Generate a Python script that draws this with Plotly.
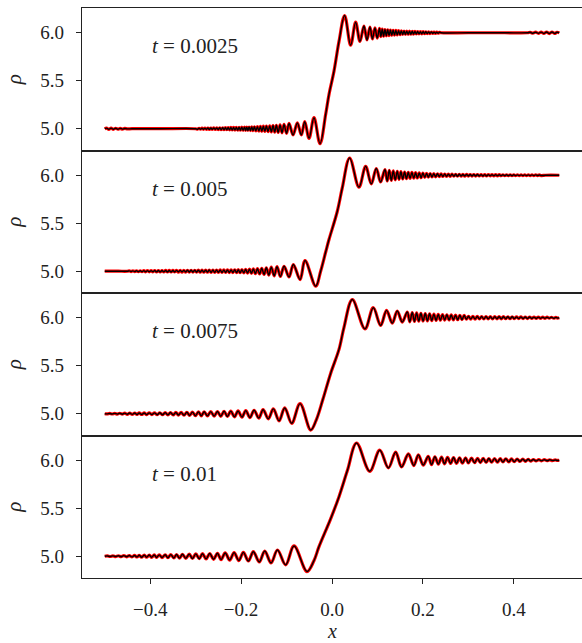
import plotly.graph_objects as go
from plotly.subplots import make_subplots

# ---------------- data ----------------
time_labels = ["0.0025", "0.005", "0.0075", "0.01"]

x_t1 = [
    -0.500, -0.496, -0.491, -0.486, -0.481, -0.476, -0.471, -0.466, -0.461, -0.456, -0.450, -0.440, -0.380, -0.300,
    -0.2958, -0.2925, -0.2893, -0.286, -0.2828, -0.2795, -0.2763, -0.273, -0.2698, -0.2665, -0.2633, -0.260,
    -0.2568, -0.2535, -0.2503, -0.247, -0.2438, -0.2405,
    -0.2375, -0.2345, -0.2315, -0.2285, -0.2255, -0.2225, -0.2195, -0.2165, -0.2135, -0.2105, -0.2075, -0.2045,
    -0.2015, -0.1985, -0.1955, -0.1925, -0.190, -0.1875, -0.185, -0.1824,
    -0.1795, -0.1766, -0.1737, -0.1707, -0.1674, -0.1641, -0.1608, -0.1575, -0.1543, -0.151, -0.1477, -0.1443,
    -0.1407, -0.137, -0.1334, -0.1297, -0.126, -0.1224, -0.1184, -0.1143, -0.110, -0.1055, -0.100, -0.0945,
    -0.0857, -0.0762, -0.0674, -0.060, -0.0505, -0.0396, -0.0264, -0.0139, -0.0066, 0.0044, 0.0154, 0.0278,
    0.041, 0.052, 0.0615, 0.0703, 0.077, 0.0835, 0.089, 0.0945, 0.0995, 0.1045,
    0.1075, 0.1105, 0.1135, 0.1165, 0.1195, 0.1225, 0.1255, 0.1285, 0.1315, 0.1345, 0.1375, 0.1405, 0.1435,
    0.1465, 0.1495, 0.1525, 0.1555, 0.1585, 0.1615, 0.1645, 0.1675, 0.1705, 0.1735, 0.1765, 0.1795, 0.1825,
    0.1855, 0.1885, 0.1915, 0.1945, 0.1975, 0.2005, 0.2035, 0.2065, 0.2095, 0.2125, 0.2155, 0.2185, 0.2215,
    0.2245, 0.2275, 0.2305, 0.2335, 0.2365,
    0.240, 0.300, 0.380, 0.430, 0.436, 0.442, 0.448, 0.454, 0.460, 0.466, 0.472, 0.478, 0.484, 0.490, 0.495, 0.500,
]
rho_t1 = [
    5.000, 5.006, 4.994, 5.006, 4.994, 5.005, 4.995, 5.004, 4.996, 5.003, 4.998, 5.000, 5.000, 5.000,
    4.995, 5.005, 4.995, 5.006, 4.994, 5.006, 4.994, 5.007, 4.993, 5.007, 4.993, 5.008,
    4.992, 5.009, 4.991, 5.010, 4.990, 5.010,
    4.989, 5.011, 4.989, 5.012, 4.988, 5.013, 4.987, 5.013, 4.986, 5.014, 4.985, 5.015,
    4.984, 5.016, 4.983, 5.017, 4.982, 5.017, 4.982, 5.018,
    4.981, 5.019, 4.980, 5.020, 4.978, 5.022, 4.976, 5.024, 4.974, 5.026, 4.972, 5.028,
    4.970, 5.030, 4.967, 5.033, 4.964, 5.036, 4.961, 5.040, 4.957, 5.045, 4.952, 5.055,
    4.935, 5.060, 4.935, 5.073, 4.900, 5.115, 4.844, 5.150, 5.357, 5.600, 5.910, 6.180,
    5.870, 6.110, 5.910, 6.070, 5.925, 6.060, 5.935, 6.050, 5.945, 6.045,
    5.960, 6.038, 5.964, 6.034, 5.968, 6.031, 5.971, 6.028, 5.974, 6.026, 5.976, 6.024, 5.978,
    6.022, 5.980, 6.020, 5.982, 6.018, 5.983, 6.017, 5.984, 6.016, 5.985, 6.015, 5.986, 6.014,
    5.987, 6.013, 5.988, 6.012, 5.989, 6.011, 5.990, 6.010, 5.991, 6.009, 5.992, 6.008, 5.993,
    6.007, 5.994, 6.006, 5.995, 6.005,
    6.000, 6.000, 6.000, 6.000, 6.005, 5.995, 6.006, 5.994, 6.007, 5.993, 6.008, 5.992, 6.008, 5.993, 6.005, 6.000,
]

x_t2 = [
    -0.500, -0.470, -0.450,
    -0.446, -0.442, -0.438, -0.434, -0.430, -0.426, -0.422, -0.418, -0.414, -0.410,
    -0.406, -0.402, -0.398, -0.394, -0.390, -0.386, -0.382, -0.378, -0.374, -0.370,
    -0.366, -0.362, -0.358, -0.354, -0.350, -0.346, -0.342, -0.338, -0.334, -0.330,
    -0.326, -0.322, -0.318, -0.314, -0.310, -0.306, -0.302, -0.298, -0.294, -0.290,
    -0.286, -0.282, -0.278, -0.274, -0.270, -0.266, -0.262, -0.258, -0.254, -0.250,
    -0.246, -0.242, -0.238, -0.234, -0.230, -0.226, -0.222, -0.218, -0.214, -0.210,
    -0.2062, -0.2022, -0.1982, -0.1941, -0.190, -0.1857, -0.1815, -0.1772, -0.173, -0.1685,
    -0.164, -0.1592, -0.1545, -0.1495, -0.1445, -0.139, -0.1335, -0.1272, -0.121, -0.1135,
    -0.1055, -0.0945, -0.085, -0.0703, -0.0593, -0.0359,
    -0.025, -0.0139, -0.0066, 0.0117, 0.0227, 0.0388,
    0.0593, 0.074, 0.0864, 0.0974, 0.107, 0.1165, 0.1215, 0.126, 0.1305, 0.1348,
    0.1392, 0.1436, 0.1476, 0.1516, 0.1556, 0.1597, 0.1638, 0.1678, 0.1718, 0.1758,
    0.1799, 0.1839, 0.1879, 0.1919, 0.196, 0.200,
    0.204, 0.208, 0.212, 0.216, 0.220, 0.224, 0.228, 0.232, 0.236, 0.240,
    0.244, 0.248, 0.252, 0.256, 0.260, 0.264, 0.268, 0.272, 0.276, 0.280,
    0.284, 0.288, 0.292, 0.296, 0.300, 0.304, 0.308, 0.312, 0.316, 0.320,
    0.324, 0.328, 0.332, 0.336, 0.340, 0.344, 0.348, 0.352, 0.356, 0.360,
    0.364, 0.368, 0.372, 0.376, 0.380, 0.384, 0.388, 0.392, 0.396, 0.400,
    0.404, 0.408, 0.412, 0.416, 0.420, 0.424, 0.428, 0.432, 0.436, 0.440,
    0.444, 0.448, 0.452, 0.456, 0.460, 0.470, 0.500,
]
rho_t2 = [
    5.000, 5.000, 5.000,
    5.004, 4.996, 5.004, 4.996, 5.005, 4.995, 5.005, 4.995, 5.006, 4.994,
    5.006, 4.994, 5.006, 4.994, 5.007, 4.993, 5.007, 4.993, 5.007, 4.993,
    5.008, 4.992, 5.008, 4.992, 5.008, 4.992, 5.009, 4.991, 5.009, 4.991,
    5.009, 4.991, 5.010, 4.990, 5.010, 4.990, 5.010, 4.990, 5.011, 4.989,
    5.011, 4.989, 5.011, 4.989, 5.012, 4.988, 5.012, 4.988, 5.012, 4.988,
    5.013, 4.987, 5.013, 4.987, 5.014, 4.986, 5.014, 4.986, 5.015, 4.985,
    5.016, 4.984, 5.017, 4.983, 5.019, 4.981, 5.021, 4.978, 5.024, 4.975,
    5.027, 4.971, 5.031, 4.966, 5.036, 4.960, 5.042, 4.952, 5.047, 4.945,
    5.052, 4.940, 5.070, 4.913, 5.111, 4.844,
    5.000, 5.200, 5.330, 5.625, 5.870, 6.180,
    5.875, 6.094, 5.910, 6.070, 5.930, 6.060, 5.940, 6.052, 5.946, 6.046,
    5.952, 6.041, 5.957, 6.037, 5.961, 6.034, 5.964, 6.031, 5.967, 6.029,
    5.970, 6.027, 5.972, 6.025, 5.974, 6.023,
    5.978, 6.020, 5.980, 6.018, 5.982, 6.016, 5.984, 6.015, 5.986, 6.014,
    5.987, 6.013, 5.988, 6.012, 5.989, 6.011, 5.990, 6.010, 5.990, 6.010,
    5.991, 6.009, 5.991, 6.009, 5.992, 6.008, 5.992, 6.008, 5.992, 6.008,
    5.993, 6.007, 5.993, 6.007, 5.993, 6.007, 5.994, 6.006, 5.994, 6.006,
    5.994, 6.006, 5.995, 6.005, 5.995, 6.005, 5.995, 6.005, 5.995, 6.005,
    5.996, 6.004, 5.996, 6.004, 5.996, 6.004, 5.996, 6.004, 5.996, 6.004,
    5.996, 6.004, 5.997, 6.003, 5.997, 6.000, 6.000,
]

x_t3 = [
    -0.500, -0.4945, -0.489, -0.4835, -0.478, -0.4725, -0.467, -0.4615, -0.456, -0.4505, -0.445, -0.4395, -0.434, -0.429,
    -0.4242, -0.4187, -0.4132, -0.4077, -0.4022, -0.3963, -0.3905, -0.3846, -0.3788, -0.3729,
    -0.3670, -0.3611, -0.3553, -0.3494, -0.3436, -0.3377, -0.3319, -0.3256, -0.3194, -0.3132,
    -0.3070, -0.3004, -0.2938, -0.2875, -0.2813, -0.2740, -0.2667, -0.2593, -0.2520, -0.2447,
    -0.2374, -0.2300, -0.2227, -0.2146, -0.2066, -0.1980, -0.1897, -0.1805, -0.1714, -0.1610,
    -0.1516, -0.1400, -0.1290, -0.1165, -0.1040, -0.0886, -0.0703, -0.0469,
    -0.035, -0.020, -0.003, 0.0154, 0.0264, 0.0447,
    0.0725, 0.0908, 0.107, 0.120, 0.1326, 0.1436, 0.1546, 0.1656,
    0.1711, 0.1766, 0.1814, 0.1861, 0.1909, 0.1956, 0.2004, 0.2051, 0.2099, 0.2147,
    0.2195, 0.2242, 0.229, 0.2337, 0.2385, 0.2432, 0.248, 0.2527, 0.2575, 0.2623,
    0.267, 0.2718, 0.2765, 0.2813, 0.286, 0.2908,
    0.2956, 0.3004, 0.3052, 0.310, 0.3148, 0.3196, 0.3244, 0.3292, 0.334, 0.3388,
    0.3436, 0.3484, 0.3532, 0.358, 0.3628, 0.3676, 0.3724, 0.3772, 0.382, 0.3868,
    0.3916, 0.3964, 0.4012, 0.406, 0.4108, 0.4156, 0.4204, 0.4252, 0.430, 0.4348,
    0.4396, 0.4444, 0.4492, 0.454, 0.4588, 0.4636, 0.4684, 0.4732, 0.478, 0.4828,
    0.4876, 0.4924, 0.496, 0.500,
]
rho_t3 = [
    5.000, 4.998, 5.003, 4.997, 5.004, 4.996, 5.005, 4.995, 5.006, 4.994, 5.007, 4.993, 5.007, 4.992,
    5.008, 4.992, 5.008, 4.991, 5.009, 4.991, 5.009, 4.990, 5.010, 4.989,
    5.011, 4.988, 5.012, 4.987, 5.013, 4.986, 5.014, 4.984, 5.015, 4.982,
    5.017, 4.979, 5.019, 4.978, 5.020, 4.977, 5.022, 4.975, 5.023, 4.973,
    5.025, 4.971, 5.027, 4.968, 5.029, 4.965, 5.032, 4.960, 5.036, 4.955,
    5.042, 4.947, 5.050, 4.926, 5.060, 4.900, 5.105, 4.830,
    4.930, 5.150, 5.420, 5.670, 5.900, 6.190,
    5.884, 6.105, 5.920, 6.077, 5.944, 6.070, 5.955, 6.060,
    5.958, 6.055, 5.961, 6.051, 5.964, 6.047, 5.966, 6.044, 5.968, 6.041,
    5.970, 6.038, 5.972, 6.035, 5.974, 6.033, 5.976, 6.031, 5.977, 6.029,
    5.978, 6.027, 5.979, 6.026, 5.980, 6.025,
    5.985, 6.015, 5.986, 6.014, 5.986, 6.014, 5.987, 6.013, 5.987, 6.013,
    5.988, 6.012, 5.988, 6.012, 5.989, 6.011, 5.989, 6.011, 5.990, 6.010,
    5.990, 6.010, 5.991, 6.009, 5.991, 6.009, 5.992, 6.008, 5.992, 6.008,
    5.993, 6.007, 5.993, 6.007, 5.994, 6.006, 5.994, 6.006, 5.995, 6.005,
    5.995, 6.004, 5.997, 6.000,
]

x_t4 = [
    -0.500, -0.494, -0.488, -0.482, -0.476, -0.470, -0.464, -0.458, -0.452, -0.446,
    -0.440, -0.4345, -0.429, -0.424, -0.419, -0.413, -0.408, -0.402, -0.397, -0.391,
    -0.386, -0.380, -0.374, -0.367, -0.361, -0.3545, -0.348, -0.342, -0.3355, -0.329,
    -0.3216, -0.314, -0.307, -0.2996, -0.292, -0.285, -0.277, -0.269, -0.2605, -0.252,
    -0.244, -0.235, -0.225, -0.2154, -0.205, -0.195, -0.184, -0.173, -0.160, -0.148,
    -0.134, -0.120, -0.102, -0.0835, -0.055,
    -0.040, -0.0286, -0.003, 0.0154, 0.034, 0.054,
    0.083, 0.105, 0.124, 0.140, 0.153, 0.168, 0.180, 0.190, 0.2007, 0.2117,
    0.219, 0.2264, 0.234, 0.241, 0.2476, 0.2542, 0.261, 0.2674, 0.274, 0.2806,
    0.287, 0.2938, 0.300, 0.307, 0.3136, 0.3202, 0.3264, 0.3326, 0.339, 0.3451,
    0.351, 0.3576, 0.364, 0.370, 0.376, 0.3824, 0.389, 0.3949, 0.401, 0.4073,
    0.4135, 0.4198, 0.4256, 0.4315, 0.437, 0.443, 0.449, 0.455, 0.461, 0.467,
    0.473, 0.479, 0.485, 0.491, 0.496, 0.500,
]
rho_t4 = [
    5.000, 5.003, 4.997, 5.004, 4.996, 5.005, 4.995, 5.006, 4.994, 5.007,
    4.993, 5.008, 4.992, 5.010, 4.990, 5.011, 4.989, 5.012, 4.988, 5.013,
    4.987, 5.014, 4.986, 5.015, 4.984, 5.017, 4.982, 5.018, 4.980, 5.020,
    4.978, 5.022, 4.976, 5.024, 4.974, 5.026, 4.972, 5.028, 4.968, 5.031,
    4.965, 5.034, 4.960, 5.037, 4.955, 5.040, 4.950, 5.047, 4.940, 5.054,
    4.930, 5.065, 4.910, 5.107, 4.840,
    4.950, 5.100, 5.390, 5.620, 5.895, 6.180,
    5.885, 6.105, 5.920, 6.085, 5.930, 6.066, 5.945, 6.056, 5.950, 6.040,
    5.955, 6.036, 5.960, 6.033, 5.963, 6.030, 5.966, 6.028, 5.968, 6.026,
    5.970, 6.024, 5.972, 6.022, 5.974, 6.020, 5.976, 6.019, 5.978, 6.018,
    5.979, 6.017, 5.980, 6.016, 5.982, 6.015, 5.983, 6.014, 5.985, 6.013,
    5.987, 6.012, 5.989, 6.010, 5.991, 6.008, 5.993, 6.007, 5.994, 6.006,
    5.995, 6.005, 5.996, 6.003, 5.998, 6.000,
]

x_tickvals = [-0.4, -0.2, 0.0, 0.2, 0.4]
x_ticktext = ["\u22120.4", "\u22120.2", "0.0", "0.2", "0.4"]
y_tickvals = [5.0, 5.5, 6.0]
y_ticktext = ["5.0", "5.5", "6.0"]

series = [(x_t1, rho_t1), (x_t2, rho_t2), (x_t3, rho_t3), (x_t4, rho_t4)]
for xs, rs in series:
    assert len(xs) == len(rs), (len(xs), len(rs))

# ---------------- figure ----------------
FONT = "Liberation Serif"
AX = "#222222"

fig = make_subplots(rows=4, cols=1, shared_xaxes=True, vertical_spacing=0)

for i, ((xs, rs), lab) in enumerate(zip(series, time_labels), start=1):
    fig.add_trace(go.Scatter(x=xs, y=rs, mode="lines",
                             line=dict(color="#ff0000", width=3.2, shape="spline", smoothing=1.0),
                             hoverinfo="skip", showlegend=False), row=i, col=1)
    fig.add_trace(go.Scatter(x=xs, y=rs, mode="lines",
                             line=dict(color="#000000", width=1.4, shape="spline", smoothing=1.0),
                             showlegend=False), row=i, col=1)
    fig.update_yaxes(range=[4.773, 6.258], tickvals=y_tickvals, ticktext=y_ticktext,
                     ticks="outside", ticklen=5, tickwidth=1, tickcolor=AX,
                     showline=True, linecolor=AX, linewidth=1.2, mirror=False,
                     showgrid=False, zeroline=False, ticklabelstandoff=8, automargin=False,
                     tickfont=dict(family=FONT, size=19, color=AX),
                     title=dict(text="<i>\u03c1</i>", standoff=12,
                                font=dict(family=FONT, size=21, color=AX)),
                     row=i, col=1)
    fig.update_xaxes(range=[-0.55, 0.55], showline=True, mirror=True, linecolor=AX,
                     linewidth=1.2, showgrid=False, zeroline=False, automargin=False,
                     ticks="", showticklabels=False, row=i, col=1)
    fig.add_annotation(x=-0.4, y=5.862, text=f"<i>t</i> = {lab}", showarrow=False,
                       xanchor="left", yanchor="middle",
                       font=dict(family=FONT, size=21, color=AX), row=i, col=1)

fig.update_xaxes(ticks="outside", ticklen=5, tickwidth=1, tickcolor=AX,
                 tickvals=x_tickvals, ticktext=x_ticktext, showticklabels=True,
                 ticklabelstandoff=9, tickfont=dict(family=FONT, size=19, color=AX),
                 row=4, col=1)

# x-axis label: bottom of its box sits on the lower edge of the figure
fig.add_annotation(x=0.0, xref="x4", y=0, yref="paper", yshift=-65,
                   text="<i>x</i>", showarrow=False, xanchor="center", yanchor="bottom",
                   borderpad=0, font=dict(family=FONT, size=20, color=AX))

fig.update_layout(width=582, height=643,
                  margin=dict(l=82, r=0, t=8, b=65, pad=0),
                  plot_bgcolor="white", paper_bgcolor="white",
                  font=dict(family=FONT, color=AX), showlegend=False)

# remove the browser's default 8 px body margin so the figure fills the window
fig.write_html("out.html", config={"displayModeBar": False},
               post_script="document.body.style.margin='0';document.body.style.overflow='hidden';")
